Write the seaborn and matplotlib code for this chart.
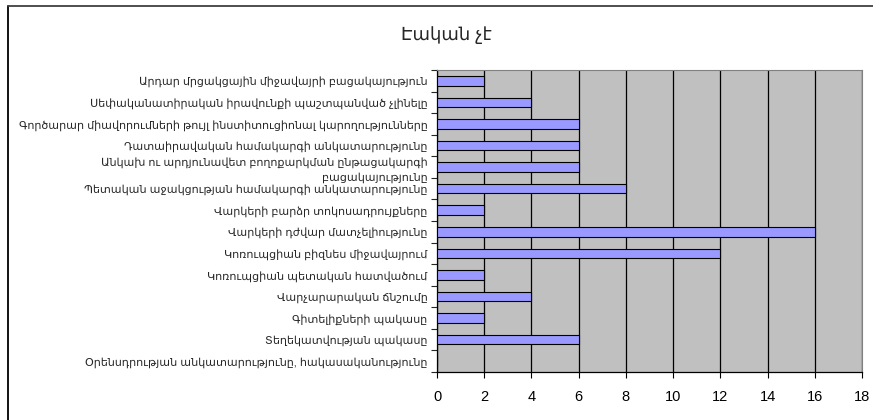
import matplotlib
matplotlib.use("Agg")
import matplotlib.pyplot as plt
import seaborn as sns
import pandas as pd
import numpy as np
from matplotlib.lines import Line2D

categories = [
    "Արդար մրցակցային միջավայրի բացակայություն",
    "Սեփականատիրական իրավունքի պաշտպանված չլինելը",
    "Գործարար միավորումների թույլ ինստիտուցիոնալ կարողությունները",
    "Դատաիրավական համակարգի անկատարությունը",
    "Անկախ ու արդյունավետ բողոքարկման ընթացակարգի\nբացակայությունը",
    "Պետական աջակցության համակարգի անկատարությունը",
    "Վարկերի բարձր տոկոսադրույքները",
    "Վարկերի դժվար մատչելիությունը",
    "Կոռուպցիան բիզնես միջավայրում",
    "Կոռուպցիան պետական հատվածում",
    "Վարչարարական ճնշումը",
    "Գիտելիքների պակասը",
    "Տեղեկատվության պակասը",
    "Օրենսդրության անկատարությունը, հակասականությունը",
]
values = [2, 4, 6, 6, 6, 8, 2, 16, 12, 2, 4, 2, 6, 0]
x_ticks = [0, 2, 4, 6, 8, 10, 12, 14, 16, 18]
title = "Էական չէ"

sns.set_style("white")
plt.rcParams['font.family'] = ['Liberation Sans', 'DejaVu Sans']

df = pd.DataFrame({"category": categories, "value": values})

fig = plt.figure(figsize=(8.73, 4.2), dpi=100)
ax = fig.add_axes([437 / 873, 1 - 372 / 420, (862 - 437) / 873, (372 - 70) / 420])
ax.set_facecolor("#C0C0C0")

sns.barplot(data=df, x="value", y="category", orient="h", color="#9999FF",
            edgecolor="black", linewidth=0.8, width=0.45, saturation=1, ax=ax, zorder=3)

ax.set_xlim(0, 18)
ax.set_ylim(len(categories) - 0.5, -0.5)
ax.set_xticks(x_ticks)
ax.set_xticklabels([str(t) for t in x_ticks], fontsize=10.5)
ax.xaxis.grid(True, color="black", linewidth=0.9, zorder=1)
ax.set_axisbelow(True)
ax.set_xlabel("")
ax.set_ylabel("")
ax.tick_params(axis="x", direction="out", length=4, width=0.8, pad=9, bottom=True, colors="black")
ax.tick_params(axis="y", which="major", length=0, pad=7, labelsize=8.0)
ax.set_yticks(np.arange(-0.5, len(categories), 1.0), minor=True)
ax.tick_params(axis="y", which="minor", direction="out", length=4, width=0.8, left=True)
for lab in ax.get_yticklabels():
    lab.set_linespacing(1.5)

for side in ["top", "right"]:
    ax.spines[side].set_color("#808080")
    ax.spines[side].set_linewidth(0.8)
for side in ["left", "bottom"]:
    ax.spines[side].set_color("black")
    ax.spines[side].set_linewidth(0.9)

fig.text(446 / 873, 1 - 35 / 420, title, ha="center", va="center", fontsize=13)

# chart-area border (left and top edges visible)
bx, by = 7.5 / 873, 1 - 5.5 / 420
fig.lines.append(Line2D([bx, bx], [0, by], transform=fig.transFigure, color="black", linewidth=1.3))
fig.lines.append(Line2D([bx, 1], [by, by], transform=fig.transFigure, color="#404040", linewidth=1.3))

fig.savefig("out.png", dpi=100)
